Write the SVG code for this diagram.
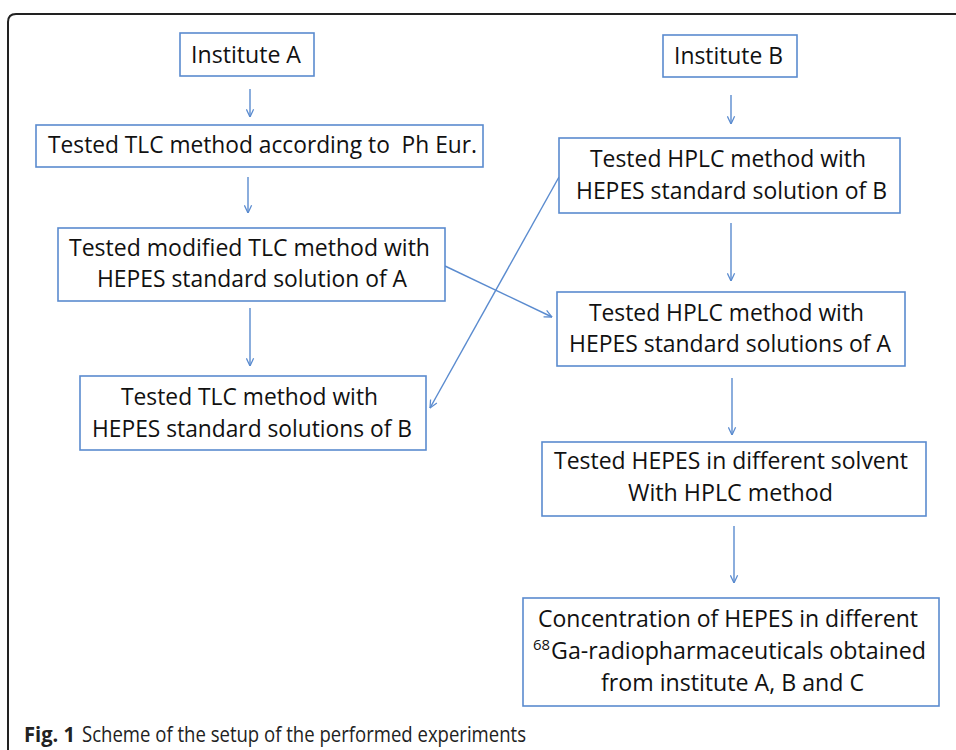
<svg xmlns="http://www.w3.org/2000/svg" width="956" height="750" viewBox="0 0 956 750">
<defs>
<style>
.box{fill:#fff;stroke:#5a8bcf;stroke-width:1.6}
.t{font-family:"Open Sans","Liberation Sans",sans-serif;font-size:23px;fill:#111}
.sup{font-family:"Open Sans","Liberation Sans",sans-serif;font-size:15px;fill:#111}
.cap{font-family:"Open Sans","Liberation Sans",sans-serif;font-size:21px;fill:#222}
.c{fill:none;stroke:#5a8bcf;stroke-width:1.4}
</style>
<marker id="ah" viewBox="0 0 10 10" refX="9.5" refY="5" markerWidth="9" markerHeight="9" markerUnits="userSpaceOnUse" orient="auto">
<path d="M1,1 L9.5,5 L1,9" fill="none" stroke="#5a8bcf" stroke-width="1.4"/>
</marker>
</defs>
<rect width="956" height="750" fill="#fff"/>
<path d="M8,750 L8,22 Q8,14 16,14 L956,14" fill="none" stroke="#222" stroke-width="2"/>

<g id="connectors">
<line class="c" x1="250" y1="89" x2="250" y2="117" marker-end="url(#ah)"/>
<line class="c" x1="248" y1="177" x2="248" y2="213" marker-end="url(#ah)"/>
<line class="c" x1="250" y1="308" x2="250" y2="366" marker-end="url(#ah)"/>
<line class="c" x1="731" y1="95" x2="731" y2="124" marker-end="url(#ah)"/>
<line class="c" x1="731" y1="223" x2="731" y2="281" marker-end="url(#ah)"/>
<line class="c" x1="732" y1="378" x2="732" y2="435" marker-end="url(#ah)"/>
<line class="c" x1="734" y1="526" x2="734" y2="583" marker-end="url(#ah)"/>
<line class="c" x1="445" y1="266" x2="552" y2="317" marker-end="url(#ah)"/>
<line class="c" x1="559" y1="177" x2="430" y2="408" marker-end="url(#ah)"/>
</g>

<g id="instA">
<rect class="box" x="180" y="33" width="134" height="43"/>
<text class="t" x="191" y="63" textLength="110" lengthAdjust="spacingAndGlyphs">Institute A</text>
</g>
<g id="tlcPhEur">
<rect class="box" x="36" y="125" width="447" height="42"/>
<text class="t" x="48" y="153" textLength="429" lengthAdjust="spacingAndGlyphs">Tested TLC method according to&#160; Ph Eur.</text>
</g>
<g id="tlcModA">
<rect class="box" x="58" y="228" width="387" height="73"/>
<text class="t" x="69" y="256" textLength="361" lengthAdjust="spacingAndGlyphs">Tested modified TLC method with</text>
<text class="t" x="97" y="287" textLength="310" lengthAdjust="spacingAndGlyphs">HEPES standard solution of A</text>
</g>
<g id="tlcB">
<rect class="box" x="80" y="376" width="346" height="74"/>
<text class="t" x="121" y="405" textLength="257" lengthAdjust="spacingAndGlyphs">Tested TLC method with</text>
<text class="t" x="92" y="437" textLength="320" lengthAdjust="spacingAndGlyphs">HEPES standard solutions of B</text>
</g>
<g id="instB">
<rect class="box" x="663" y="35" width="134" height="42"/>
<text class="t" x="674" y="64" textLength="109" lengthAdjust="spacingAndGlyphs">Institute B</text>
</g>
<g id="hplcB">
<rect class="box" x="559" y="138" width="341" height="75"/>
<text class="t" x="590" y="167" textLength="276" lengthAdjust="spacingAndGlyphs">Tested HPLC method with</text>
<text class="t" x="576" y="199" textLength="311" lengthAdjust="spacingAndGlyphs">HEPES standard solution of B</text>
</g>
<g id="hplcA">
<rect class="box" x="557" y="292" width="348" height="74"/>
<text class="t" x="589" y="321" textLength="275" lengthAdjust="spacingAndGlyphs">Tested HPLC method with</text>
<text class="t" x="569" y="352" textLength="322" lengthAdjust="spacingAndGlyphs">HEPES standard solutions of A</text>
</g>
<g id="solvent">
<rect class="box" x="542" y="442" width="384" height="74"/>
<text class="t" x="554" y="469" textLength="354" lengthAdjust="spacingAndGlyphs">Tested HEPES in different solvent</text>
<text class="t" x="628" y="501" textLength="205" lengthAdjust="spacingAndGlyphs">With HPLC method</text>
</g>
<g id="concentration">
<rect class="box" x="523" y="598" width="416" height="108"/>
<text class="t" x="538" y="627" textLength="380" lengthAdjust="spacingAndGlyphs">Concentration of HEPES in different</text>
<text class="sup" x="533" y="650" textLength="17" lengthAdjust="spacingAndGlyphs">68</text>
<text class="t" x="551" y="659" textLength="375" lengthAdjust="spacingAndGlyphs">Ga-radiopharmaceuticals obtained</text>
<text class="t" x="601" y="691" textLength="263" lengthAdjust="spacingAndGlyphs">from institute A, B and C</text>
</g>

<text class="cap" x="24" y="742" font-weight="bold" textLength="51" lengthAdjust="spacingAndGlyphs">Fig. 1</text>
<text class="cap" x="82" y="742" textLength="444" lengthAdjust="spacingAndGlyphs">Scheme of the setup of the performed experiments</text>
</svg>
